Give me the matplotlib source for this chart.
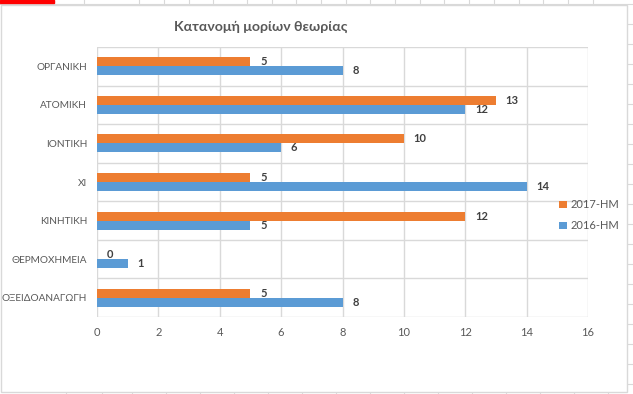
import matplotlib
matplotlib.use("Agg")
import matplotlib.pyplot as plt
from matplotlib.patches import Rectangle
import numpy as np

plt.rcParams['font.family'] = ['Lato', 'Noto Sans', 'DejaVu Sans']

categories = ["ΟΡΓΑΝΙΚΗ", "ΑΤΟΜΙΚΗ", "ΙΟΝΤΙΚΗ", "ΧΙ", "ΚΙΝΗΤΙΚΗ", "ΘΕΡΜΟΧΗΜΕΙΑ", "ΟΞΕΙΔΟΑΝΑΓΩΓΗ"]
series_2017 = [5, 13, 10, 5, 12, 0, 5]
series_2016 = [8, 12, 6, 14, 5, 1, 8]
series_names = ["2017-HM", "2016-HM"]
xticks = [0, 2, 4, 6, 8, 10, 12, 14, 16]

orange = "#ED7D31"
blue = "#5B9BD5"
grid_c = "#D9D9D9"
text_c = "#595959"

fig = plt.figure(figsize=(6.33, 3.94), dpi=100)
fig.patch.set_facecolor("white")

# spreadsheet background lines
for xv in [54, 84, 139, 164, 189, 213, 247, 272, 296, 321, 346, 370, 395, 420, 444, 469, 494, 519, 543, 568, 593]:
    fig.add_artist(plt.Line2D([xv / 633, xv / 633], [1 - 4 / 394, 1.0], color=grid_c, lw=0.8, zorder=-3))
fig.add_artist(plt.Line2D([0, 1], [1 - 3.5 / 394, 1 - 3.5 / 394], color=grid_c, lw=0.8, zorder=-3))
fig.add_artist(Rectangle((0, 1 - 3 / 394), 54 / 633, 3 / 394, color="#FF0000", transform=fig.transFigure, zorder=-2))
for yv in [24, 44, 64, 84, 104, 124, 144, 164, 184, 204, 224, 244, 264, 284, 304, 324, 344, 364, 384]:
    fig.add_artist(plt.Line2D([628 / 633, 1.0], [1 - yv / 394, 1 - yv / 394], color=grid_c, lw=0.8, zorder=-3))
for xv in [66, 102, 132, 166, 200, 234, 268, 302, 336, 370, 404, 438, 472, 506, 540, 574, 608]:
    fig.add_artist(plt.Line2D([xv / 633, xv / 633], [0, 1.5 / 394], color=grid_c, lw=0.8, zorder=-3))

# chart area border
fig.add_artist(Rectangle((1 / 633, 2 / 394), 626 / 633, 387 / 394, fill=True, facecolor="white",
                         edgecolor=grid_c, lw=1.0, transform=fig.transFigure, zorder=-1))

ax = fig.add_axes([97 / 633, 1 - 317 / 394, 491 / 633, 270 / 394])
ax.set_facecolor("none")
n = len(categories)
y = np.arange(n)
h = 0.235
b1 = ax.barh(y - h / 2, series_2017, height=h, color=orange, label=series_names[0], zorder=3)
b2 = ax.barh(y + h / 2, series_2016, height=h, color=blue, label=series_names[1], zorder=3)

ax.set_ylim(n - 0.5, -0.5)
ax.set_xlim(0, 16)
ax.set_xticks(xticks)
ax.set_yticks(y)
ax.set_yticklabels(categories)
for yb in np.arange(-0.5, n, 1.0):
    ax.axhline(yb, color=grid_c, lw=1.0, zorder=1)
ax.grid(axis="x", color=grid_c, lw=1.0, zorder=1)
for s in ax.spines.values():
    s.set_visible(False)
ax.tick_params(axis="both", length=0, colors=text_c, labelsize=8)
ax.tick_params(axis="x", pad=7.5)
ax.tick_params(axis="y", pad=7, labelsize=7.2)

for bars, vals in ((b1, series_2017), (b2, series_2016)):
    for bar, v in zip(bars, vals):
        ax.annotate(str(v), (bar.get_width(), bar.get_y() + bar.get_height() / 2),
                    xytext=(7, 0), textcoords="offset points", va="center", ha="left",
                    fontsize=8, fontweight="bold", color="#404040")

fig.text(261 / 633, 1 - 26.5 / 394, "Κατανομή μορίων θεωρίας", ha="center", va="center",
         fontsize=10.2, fontweight="bold", color=text_c)

leg = fig.legend(handles=[b1, b2], labels=series_names, loc="upper left",
                 bbox_to_anchor=(555 / 633, 1 - 195 / 394), frameon=False, fontsize=8,
                 labelcolor=text_c, handlelength=0.7, handleheight=0.7, handletextpad=0.3,
                 labelspacing=0.9, borderaxespad=0)

fig.savefig("out.png", dpi=100)
